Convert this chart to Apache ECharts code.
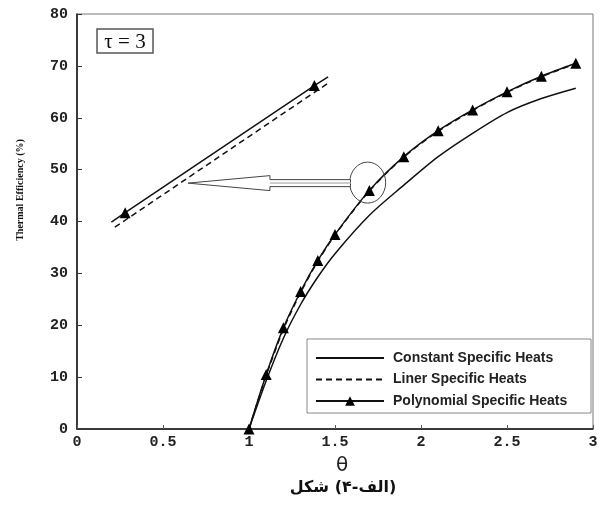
<!DOCTYPE html>
<html>
<head>
<meta charset="utf-8">
<script src="https://cdn.jsdelivr.net/npm/echarts@6/dist/echarts.min.js"></script>
<style>
  html, body { margin: 0; padding: 0; background: #fff; }
  #chart { width: 605px; height: 506px; }
</style>
</head>
<body>
<div id="chart"></div>
<script>
// theta values and efficiencies (%)
var theta = [1, 1.1, 1.2, 1.3, 1.4, 1.5, 1.7, 1.9, 2.1, 2.3, 2.5, 2.7, 2.9];
var constantHeats = [0, 9.3, 17.5, 24, 29.3, 33.8, 41.2, 47, 52.5, 57, 61, 63.7, 65.7];
var linerHeats = [0, 10.3, 19.2, 26.3, 32.3, 37.4, 45.9, 52.4, 57.4, 61.4, 64.9, 67.9, 70.4];
var polyHeats = [0, 10.5, 19.5, 26.5, 32.5, 37.5, 46, 52.5, 57.5, 61.5, 65, 68, 70.5];

// magnified view (inset) drawn at upper left
var insetTheta = [0.2, 0.28, 1.38, 1.46];
var insetPoly = [39.9, 41.7, 66.2, 67.9];
var insetLinerTheta = [0.22, 1.47];
var insetLiner = [38.9, 66.9];

var xTicks = [0, 0.5, 1, 1.5, 2, 2.5, 3];
var yTicks = [0, 10, 20, 30, 40, 50, 60, 70, 80];

// caption "شکل (۴-الف)" split in visual (left to right) order
var captionParts = ["شکل", " ", "(", "۴", "-", "الف", ")"];

// annotation anchors in data units
var zoomCenter = [1.69, 47.5];
var arrowTip = [0.645, 47.4];
var arrowTail = [1.59, 47.4];

function pairs(xs, ys) {
  return xs.map(function (x, i) { return [x, ys[i]]; });
}

var chart = echarts.init(document.getElementById("chart"));

var tickFont = { fontFamily: "Liberation Mono", fontWeight: "bold", fontSize: 15, color: "#222" };

var option = {
  animation: false,
  grid: {
    left: 77, right: 12, top: 14, bottom: 77,
    show: true, borderColor: "#777", borderWidth: 1
  },
  legend: {
    orient: "vertical",
    left: 315, top: 351,
    padding: 0,
    itemWidth: 68, itemHeight: 12, itemGap: 7.5,
    data: [
      { name: "Constant Specific Heats", itemStyle: { opacity: 0 } },
      { name: "Liner Specific Heats", itemStyle: { opacity: 0 } },
      { name: "Polynomial Specific Heats" }
    ],
    textStyle: { fontFamily: "Liberation Sans", fontWeight: "bold", fontSize: 14, color: "#222", padding: [0, 0, 0, 4] }
  },
  xAxis: {
    type: "value",
    min: xTicks[0], max: xTicks[xTicks.length - 1], interval: 0.5,
    name: "θ", nameLocation: "middle", nameGap: 27,
    nameTextStyle: { fontFamily: "DejaVu Sans", fontSize: 20, color: "#222", padding: [0, 0, 0, 14] },
    axisLine: { lineStyle: { color: "#111", width: 1.5 } },
    axisTick: { inside: true, length: 4, lineStyle: { color: "#555" } },
    axisLabel: Object.assign({ margin: 6 }, tickFont),
    splitLine: { show: false }
  },
  yAxis: {
    type: "value",
    min: yTicks[0], max: yTicks[yTicks.length - 1], interval: 10,
    axisLine: { show: true, lineStyle: { color: "#111", width: 1.5 } },
    axisTick: { show: true, inside: true, length: 5, lineStyle: { color: "#333" } },
    axisLabel: Object.assign({ margin: 9 }, tickFont),
    splitLine: { show: false }
  },
  series: [
    {
      name: "Constant Specific Heats", type: "line", smooth: 0.3,
      data: pairs(theta, constantHeats), symbol: "none",
      lineStyle: { color: "#111", width: 1.5 }, itemStyle: { color: "#111" }
    },
    {
      name: "Liner Specific Heats", type: "line", smooth: 0.3,
      data: pairs(theta, linerHeats), symbol: "none",
      lineStyle: { color: "#111", width: 1.5, type: [6, 4] }, itemStyle: { color: "#111" }
    },
    {
      name: "Polynomial Specific Heats", type: "line", smooth: 0.3,
      data: pairs(theta, polyHeats), symbol: "triangle", symbolSize: 11,
      lineStyle: { color: "#111", width: 1.5 }, itemStyle: { color: "#000" }
    },
    {
      name: "inset-poly", type: "line",
      data: pairs(insetTheta, insetPoly).map(function (p, i) {
        return (i === 1 || i === 2) ? { value: p } : { value: p, symbol: "none" };
      }),
      symbol: "triangle", symbolSize: 11,
      lineStyle: { color: "#111", width: 1.5 }, itemStyle: { color: "#000" }
    },
    {
      name: "inset-liner", type: "line",
      data: pairs(insetLinerTheta, insetLiner), symbol: "none",
      lineStyle: { color: "#111", width: 1.5, type: [6, 4] }
    }
  ]
};

chart.setOption(option);

var c = chart.convertToPixel({ gridIndex: 0 }, zoomCenter);
var tip = chart.convertToPixel({ gridIndex: 0 }, arrowTip);
var tail = chart.convertToPixel({ gridIndex: 0 }, arrowTail);
var headX = tip[0] + 82;

// lay out caption pieces left to right, centred under the plot
var captionFont = "bold 16px 'DejaVu Sans'";
var mctx = document.createElement("canvas").getContext("2d");
mctx.font = captionFont;
var widths = captionParts.map(function (s) { return mctx.measureText(s).width; });
var total = widths.reduce(function (a, b) { return a + b; }, 0);
var cx = 343 - total / 2;
var captionEls = captionParts.map(function (s, i) {
  var el = {
    type: "text", z: 6, x: cx, y: 488,
    style: { text: s, font: captionFont, fill: "#111", align: "left", verticalAlign: "middle" }
  };
  cx += widths[i];
  return el;
});

chart.setOption({
  graphic: [
    {
      type: "rect", z: 1,
      shape: { x: 307, y: 339, width: 284, height: 74 },
      style: { fill: "#fff", stroke: "#888", lineWidth: 1 }
    },
    {
      type: "rect", z: 5,
      shape: { x: 97, y: 29, width: 56, height: 24 },
      style: { fill: "#fff", stroke: "#555", lineWidth: 1.5 }
    },
    {
      type: "text", z: 6, x: 125, y: 42,
      style: { text: "τ = 3", font: "21px 'Liberation Serif'", fill: "#111", align: "center", verticalAlign: "middle" }
    },
    {
      type: "ellipse", z: 5,
      shape: { cx: c[0], cy: c[1], rx: 18, ry: 20.5 },
      style: { fill: "none", stroke: "#444", lineWidth: 1 }
    },
    {
      type: "polygon", z: 5,
      shape: {
        points: [
          [tip[0], tip[1]],
          [headX, tip[1] - 7.5],
          [headX, tip[1] - 3.5],
          [tail[0], tail[1] - 3.5],
          [tail[0], tail[1] + 3.5],
          [headX, tip[1] + 3.5],
          [headX, tip[1] + 7.5]
        ]
      },
      style: { fill: "#fff", stroke: "#444", lineWidth: 1 }
    },
    {
      type: "line", z: 6,
      shape: { x1: headX, y1: tip[1], x2: tail[0], y2: tail[1] },
      style: { stroke: "#ccc", lineWidth: 2 }
    },
    {
      type: "text", z: 6, x: 20, y: 190, rotation: Math.PI / 2,
      style: { text: "Thermal Efficiency (%)", font: "bold 10px 'Liberation Serif'", fill: "#111", align: "center", verticalAlign: "middle" }
    }
  ].concat(captionEls)
});
</script>
</body>
</html>
